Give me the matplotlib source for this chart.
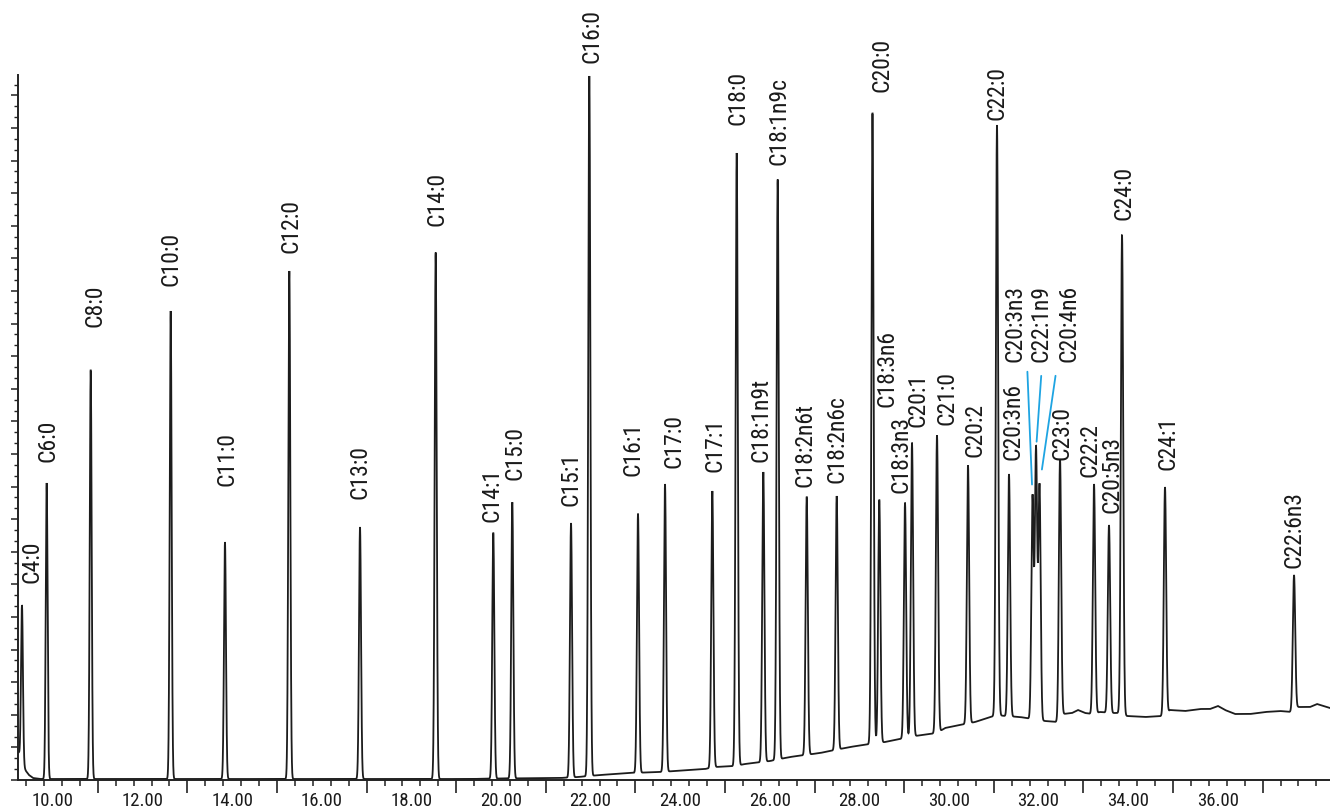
import numpy as np
import matplotlib
matplotlib.use('Agg')
from matplotlib import pyplot as plt
from matplotlib import font_manager
from matplotlib.ticker import MultipleLocator, NullFormatter

# narrow sans for the peak names, fall back to condensed DejaVu
installed = {f.name for f in font_manager.fontManager.ttflist}
for narrow in ['Liberation Sans Narrow', 'Roboto Condensed', 'Noto Sans ExtraCondensed',
               'Noto Sans Condensed', 'Open Sans Condensed', 'DejaVu Sans']:
    if narrow in installed:
        break
plt.rcParams['font.family'] = [narrow, 'DejaVu Sans']
plt.rcParams['font.stretch'] = 'condensed'
name_size = 15 if narrow == 'DejaVu Sans' else 17
tick_size = 12 if narrow == 'DejaVu Sans' else 13.5

# FAME peaks: retention time (min) and apex response
fames = ['C4:0', 'C6:0', 'C8:0', 'C10:0', 'C11:0', 'C12:0', 'C13:0', 'C14:0',
         'C14:1', 'C15:0', 'C15:1', 'C16:0', 'C16:1', 'C17:0', 'C17:1', 'C18:0',
         'C18:1n9t', 'C18:1n9c', 'C18:2n6t', 'C18:2n6c', 'C20:0', 'C18:3n6',
         'C18:3n3', 'C20:1', 'C21:0', 'C20:2', 'C22:0', 'C20:3n6', 'C20:3n3',
         'C22:1n9', 'C20:4n6', 'C23:0', 'C22:2', 'C20:5n3', 'C24:0', 'C24:1',
         'C22:6n3']
rt = [9.308, 9.859, 10.842, 12.627, 13.839, 15.275, 16.853, 18.542,
      19.828, 20.252, 21.563, 21.971, 23.058, 23.661, 24.717, 25.261,
      25.855, 26.176, 26.824, 27.493, 28.292, 28.444,
      29.018, 29.174, 29.732, 30.424, 31.071, 31.339, 31.864,
      31.942, 32.020, 32.478, 33.237, 33.571, 33.862, 34.821,
      37.701]
apex = [175, 297, 410, 469, 238, 509, 253, 528,
        247, 278, 257, 704, 266, 296, 289, 627,
        308, 601, 283, 284, 667, 280,
        277, 337, 345, 315, 655, 306, 283,
        330, 294, 321, 296, 255, 545, 293,
        205]

# baseline between peaks (solvent tail at the start, rising drift later)
base_t = [9.241, 9.330, 9.397, 9.464, 9.554, 9.710, 19.308, 19.978, 21.317,
          21.719, 22.210, 22.879, 23.549, 24.554, 24.777, 25.223, 25.446,
          26.004, 26.451, 27.121, 27.790, 28.237, 28.571, 28.906, 29.241,
          29.732, 29.911, 30.357, 30.580, 31.071, 31.250, 31.585, 31.853,
          32.143, 32.411, 32.545, 32.746, 32.879, 33.036, 33.192, 33.371,
          33.638, 33.817, 33.973, 34.375, 34.777, 34.933, 35.268, 35.603,
          35.826, 36.004, 36.161, 36.384, 36.719, 37.054, 37.388, 37.634,
          37.790, 38.058, 38.214, 38.504]
base_y = [27, 15, 9, 5, 2, 1, 1, 1.5, 2,
          3, 5, 7, 8, 11, 13, 14, 16,
          19, 23, 27, 33, 36, 38, 41, 44,
          47, 52, 56, 58, 65, 64, 63, 61,
          59, 58, 66, 67, 70, 67, 66, 68,
          67, 67, 64, 63, 64, 70, 69, 71,
          71, 74, 70, 66, 66, 68, 69, 68,
          73, 73, 76, 72]

# where each peak name sits (bottom-centre of the rotated text)
label_t = [9.531, 9.888, 10.938, 12.623, 13.884, 15.313, 16.842, 18.571,
           19.788, 20.313, 21.563, 22.031, 22.946, 23.862, 24.777, 25.290,
           25.804, 26.205, 26.786, 27.500, 28.504, 28.616,
           28.929, 29.308, 29.955, 30.580, 31.071, 31.429, 31.484,
           32.054, 32.679, 32.522, 33.158, 33.627, 33.906, 34.888,
           37.701]
label_y = [197, 318, 453, 494, 294, 527, 281, 554,
           258, 300, 274, 717, 304, 312, 308, 655,
           318, 615, 293, 297, 688, 373,
           287, 353, 355, 323, 660, 320, 418,
           418, 418, 320, 303, 267, 560, 310,
           212]
# crowded names get a leader line: (relpos on text, shrinkA, shrinkB)
leaders = {'C20:3n3': ((1.0, 0.0), 5, 9),
           'C22:1n9': ((0.55, 0.0), 8, 6),
           'C20:4n6': ((0.0, 0.0), 8, 12)}

x_ticks = np.arange(10, 37, 2)

# build the trace
t = np.arange(base_t[0], base_t[-1], 0.002)
signal = np.interp(t, base_t, base_y)
for r, a in zip(rt, apex):
    sigma = 0.021 + 0.0002 * (r - 9)
    height = a - np.interp(r, base_t, base_y)
    signal = signal + height * np.exp(-0.5 * ((t - r) / sigma) ** 2)

fig = plt.figure(figsize=(13.3, 8.11), dpi=100)
ax = fig.add_axes([18 / 1330, 31 / 811, 1312 / 1330, 705 / 811])
ax.plot(t, signal, color='#1c1c1c', lw=1.3, solid_joinstyle='miter')

ax.set_xlim(9.219, 38.504)
ax.set_ylim(0, 705)

txt_color = '#1a1a1a'
for name, lt, ly, r, a in zip(fames, label_t, label_y, rt, apex):
    if name in leaders:
        relpos, sa, sb = leaders[name]
        ax.annotate(name, xy=(r, a), xytext=(lt, ly), rotation=90,
                    ha='center', va='bottom', fontsize=name_size, color=txt_color,
                    annotation_clip=False,
                    arrowprops=dict(arrowstyle='-', color='#1ea4e2', lw=1.3,
                                    relpos=relpos, shrinkA=sa, shrinkB=sb))
    else:
        ax.text(lt, ly, name, rotation=90, ha='center', va='bottom',
                fontsize=name_size, color=txt_color, clip_on=False)

for side in ['top', 'right']:
    ax.spines[side].set_visible(False)
for side in ['left', 'bottom']:
    ax.spines[side].set_linewidth(1.4)
    ax.spines[side].set_color('#222222')

# odd-minute major ticks, 0.4 min minor ticks, no labels on these
ax.xaxis.set_major_locator(MultipleLocator(2, offset=1))
ax.xaxis.set_minor_locator(MultipleLocator(0.4, offset=0.2))
ax.xaxis.set_major_formatter(NullFormatter())
ax.yaxis.set_major_locator(MultipleLocator(32.6))
ax.yaxis.set_minor_locator(MultipleLocator(32.6 / 3))
ax.yaxis.set_major_formatter(NullFormatter())
ax.tick_params(axis='x', which='major', length=9, width=1.2, color='#222222')
ax.tick_params(axis='x', which='minor', length=4.5, width=1.1, color='#222222')
ax.tick_params(axis='y', which='major', length=5, width=1.1, color='#222222')
ax.tick_params(axis='y', which='minor', length=3, width=1.0, color='#222222')

# time labels on the even minutes
sec = ax.secondary_xaxis('bottom')
sec.set_xticks(x_ticks)
sec.set_xticklabels([f'{v:.2f}' for v in x_ticks])
sec.tick_params(length=0, pad=9, labelsize=tick_size, labelcolor=txt_color)
sec.spines['bottom'].set_visible(False)

fig.savefig('out.png', dpi=100)
